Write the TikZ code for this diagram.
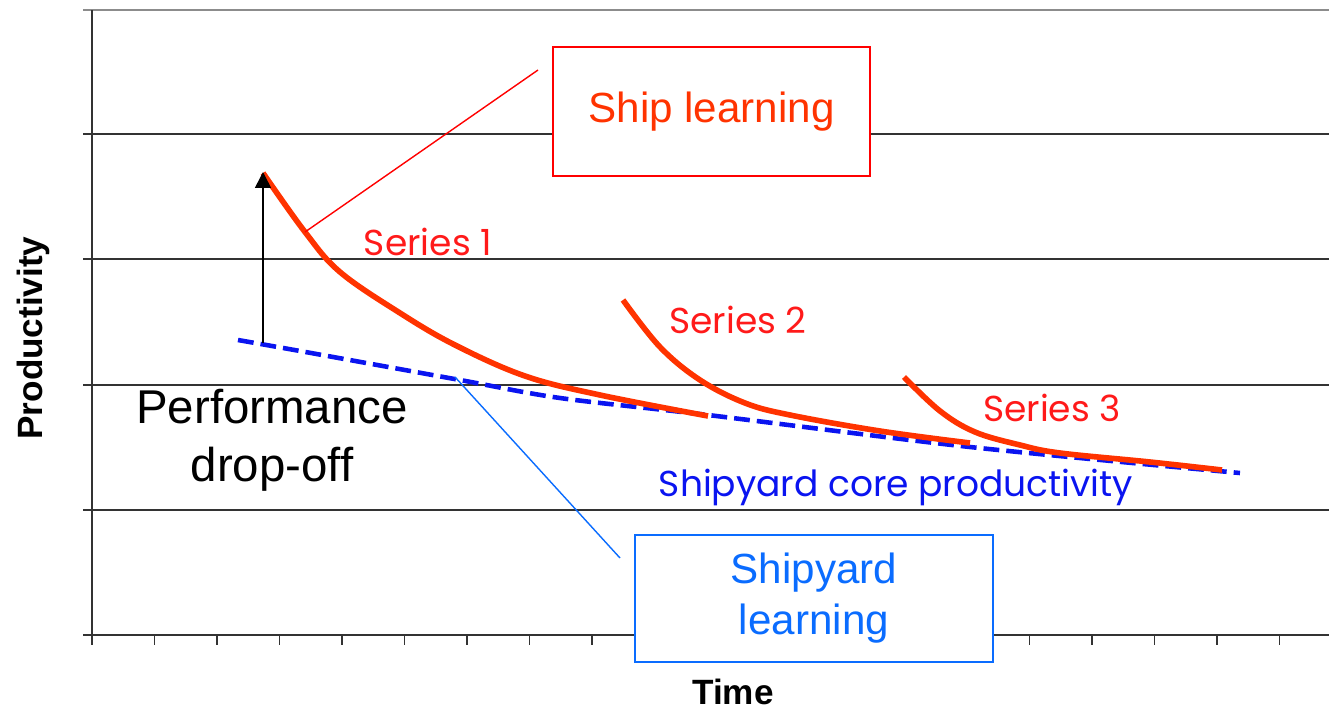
\documentclass[tikz,border=0pt]{standalone}
\usepackage{fontspec}
\setmainfont{Liberation Sans}
\newfontfamily\gothic{Poppins}
\usetikzlibrary{arrows.meta}
\definecolor{shipred}{HTML}{FF3300}
\definecolor{seriesred}{HTML}{FF1A1A}
\definecolor{coreblue}{HTML}{0A14F0}
\definecolor{yardblue}{HTML}{0A6CFF}

\begin{document}
\begin{tikzpicture}[x=0.02cm,y=-0.02cm,
    grid/.style={line width=0.6pt,black!80},
    learn/.style={line width=3.2pt,shipred,line cap=butt},
    core/.style={line width=2.6pt,coreblue,dash pattern=on 9pt off 4pt},
    callbox/.style={draw,line width=1pt,fill=white,align=center,inner sep=0pt},
    serieslabel/.style={seriesred,font=\gothic\fontsize{20.5}{22}\selectfont}]
    \useasboundingbox (0,0) rectangle (1329,711);
    % axes and grid
    \draw[line width=1.2pt,black!45] (83,10) -- (1329,10);
    \foreach \y in {134,259,385,510}
        \draw[grid] (83,\y) -- (1329,\y);
    \draw[grid] (83,635) -- (1329,635);
    \draw[grid] (92,10) -- (92,645);
    \foreach \k in {0,...,19}
        \draw[grid] ({92+62.5*\k},635) -- ({92+62.5*\k},645);
    \node[rotate=90,font=\bfseries\fontsize{20}{22}\selectfont] (ylab) at (33,338) {Productivity};
    \node[font=\bfseries\fontsize{20}{22}\selectfont] (xlab) at (733,692) {Time};
    % core productivity
    \draw[core] plot[smooth] coordinates {(238,340) (300,351) (460,380) (560,398) (708,415) (970,447) (1240,473)};
    \coordinate (coreref) at (455,377);
    % learning curves per series
    \draw[learn] plot[smooth,tension=0.6] coordinates {(263,173) (305,232) (340,272) (400,313) (455,345) (525,376) (600,395) (708,416)};
    \draw[learn] plot[smooth,tension=0.6] coordinates {(623,300) (660,347) (700,380) (745,403) (790,415) (880,431) (970,443)};
    \draw[learn] plot[smooth,tension=0.6] coordinates {(904,377) (940,411) (975,432) (1020,445) (1060,453) (1150,462) (1222,470)};
    \coordinate (shipref) at (305,232);
    \node[serieslabel] (s1) at (428,242) {Series 1};
    \node[serieslabel] (s2) at (738,320) {Series 2};
    \node[serieslabel] (s3) at (1052,408) {Series 3};
    \node[coreblue,font=\gothic\fontsize{20.5}{22}\selectfont] (corelab) at (896,487) {Shipyard core productivity};
    % drop-off
    \coordinate (base) at (263,343);
    \coordinate (peak) at (263,172);
    \draw[line width=0.9pt,-{Triangle[width=9pt,length=9pt]}] (base) -- (peak);
    \node[align=center,font=\fontsize{27}{33}\selectfont] (drop) at (272,440) {Performance\\drop-off};
    % call-outs
    \node[callbox,draw=red,text=shipred,minimum width=317*0.02cm,minimum height=129*0.02cm,font=\fontsize{24}{28}\selectfont] (shipbox) at (711.5,111.5) {Ship learning};
    \coordinate (shiptip) at (538,70);
    \draw[red,line width=0.8pt] (shipref) -- (shiptip);
    \node[callbox,draw=yardblue,text=yardblue,minimum width=358*0.02cm,minimum height=127*0.02cm,font=\fontsize{24}{29}\selectfont] (yardbox) at (814,598.5) {Shipyard\\learning};
    \coordinate (yardtip) at (620,558);
    \draw[yardblue,line width=0.8pt] (coreref) -- (yardtip);
\end{tikzpicture}
\end{document}
